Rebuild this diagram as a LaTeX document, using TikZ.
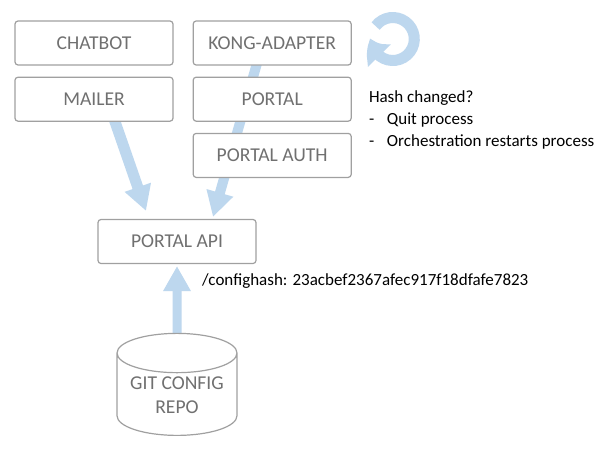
\documentclass[tikz,border=0pt]{standalone}
\usepackage{fontspec}
\setmainfont{Carlito}
\usetikzlibrary{positioning, arrows.meta, shapes.geometric, bending, backgrounds}
\definecolor{flowblue}{HTML}{BDD7EE}
\definecolor{boxline}{HTML}{A0A0A0}
\definecolor{boxtext}{HTML}{707070}

\begin{document}
\begin{tikzpicture}[x=1pt, y=-1pt,
    box/.style={draw=boxline, line width=1.2pt, rounded corners=3pt, fill=white,
        minimum width=158pt, minimum height=44pt, inner sep=0pt, text=boxtext,
        font=\fontsize{19.6}{23.5}\selectfont},
    repostore/.style={cylinder, shape border rotate=90, aspect=0.42, draw=boxline,
        line width=1.2pt, fill=white, minimum width=120pt, minimum height=102pt,
        inner sep=0pt, text=boxtext, font=\fontsize{19.6}{24}\selectfont},
    note/.style={inner sep=0pt, align=left, font=\fontsize{17}{21}\selectfont},
    flow/.style={draw=flowblue, line width=10pt, -{Triangle[width=26pt, length=25pt]}},
    loopflow/.style={draw=flowblue, line width=11pt, -{Triangle[width=30pt, length=20pt, bend]}}]
    \useasboundingbox (0,0) rectangle (606,453);

    % Nodes
    \node[box] (chatbot) at (94,43) {CHATBOT};
    \node[box, right=19pt of chatbot] (kong) {KONG-ADAPTER};
    \node[box, below=11pt of chatbot] (mailer) {MAILER};
    \node[box, below=11pt of kong] (portal) {PORTAL};
    \node[box, below=11pt of portal] (auth) {PORTAL AUTH};
    \node[box] (api) at (177,241.5) {PORTAL API};
    \node[repostore] (repo) at (177,394.5)
        {\raisebox{-7.5pt}[0pt][0pt]{\begin{tabular}{@{}c@{}}GIT CONFIG\\REPO\end{tabular}}};

    \node[note, anchor=north west] (hash) at ([xshift=17pt, yshift=-14pt]portal.north east)
        {Hash changed?\\[1pt] \makebox[18pt][l]{-}Quit process\\[1pt] \makebox[18pt][l]{-}Orchestration restarts process};
    \node[note, anchor=west] (hashval) at ([xshift=25pt, yshift=-17pt]api.south)
        {/confighash: 23acbef2367afec917f18dfafe7823};
    \coordinate (loopc) at ([xshift=41pt, yshift=4pt]kong.east);

    % Paths
    \begin{scope}[on background layer]
        \fill[white] (0,0) rectangle (606,453);
        \draw[flow, line width=11pt] ([xshift=20pt, yshift=3pt]mailer.south) -- ([xshift=-31pt, yshift=8pt]api.north);
        \draw[flow] ([xshift=-15pt, yshift=3pt]kong.south) -- ([xshift=36pt, yshift=2pt]api.north);
        \draw[flow, line width=9pt] (repo.north) -- ([yshift=-2pt]api.south);
    \end{scope}
    \draw[loopflow] ([shift={(143:21.5pt)}]loopc) arc[start angle=143, end angle=-182, radius=21.5pt];
\end{tikzpicture}
\end{document}
